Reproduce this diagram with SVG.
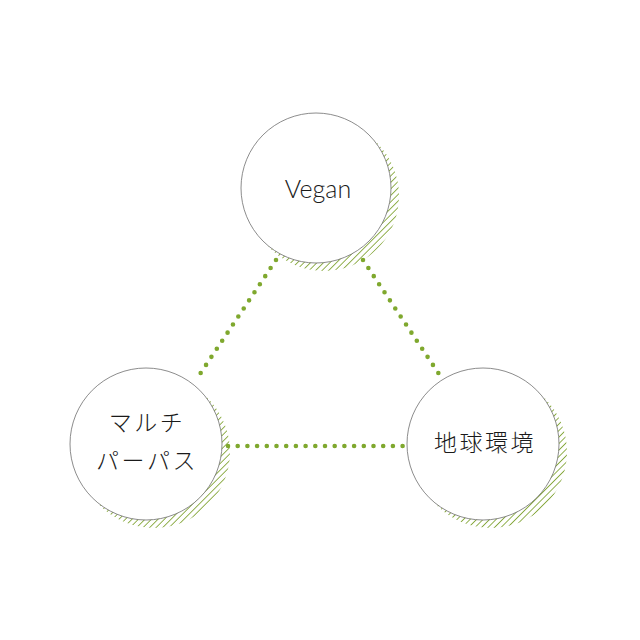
<svg xmlns="http://www.w3.org/2000/svg" width="640" height="640" viewBox="0 0 640 640">
<style>
.shadow{fill:url(#hatch);}
.node{fill:#fff;stroke:#6e6e6e;stroke-width:0.8;}
.conn{stroke:#7fa82e;stroke-width:4.6;stroke-linecap:round;stroke-dasharray:0 9.7;fill:none;}
.lbl{font-family:"Lato","Noto Sans CJK JP",sans-serif;font-weight:300;font-size:25px;fill:#1a1a1a;text-anchor:middle;}
.jp{font-family:"Noto Sans CJK JP",sans-serif;font-weight:300;font-size:23px;fill:#1a1a1a;text-anchor:middle;letter-spacing:2.5px;}
</style>
<defs>
<pattern id="hatch" patternUnits="userSpaceOnUse" width="4.6" height="4.6" patternTransform="rotate(45)">
<rect width="4.6" height="4.6" fill="#fff"/>
<line x1="0" y1="0" x2="0" y2="4.6" stroke="#86a83c" stroke-width="1.8"/>
</pattern>
</defs>
<rect width="640" height="640" fill="#fff"/>
<g id="shadows">
<circle class="shadow" cx="324" cy="196" r="75"/>
<circle class="shadow" cx="154" cy="452" r="76"/>
<circle class="shadow" cx="491" cy="452" r="76"/>
</g>
<g id="connectors">
<line class="conn" x1="276" y1="260" x2="200" y2="374"/>
<line class="conn" x1="363" y1="260" x2="439" y2="374"/>
<line class="conn" x1="228" y1="446" x2="404" y2="446"/>
</g>
<g id="vegan">
<circle class="node" cx="316" cy="188" r="75"/>
<text class="lbl" x="318" y="198">Vegan</text>
</g>
<g id="multipurpose">
<circle class="node" cx="146" cy="444" r="76"/>
<text class="jp" x="147" y="431">マルチ</text>
<text class="jp" x="147" y="469">パーパス</text>
</g>
<g id="environment">
<circle class="node" cx="483" cy="444" r="76"/>
<text class="jp" x="485" y="451">地球環境</text>
</g>
</svg>
